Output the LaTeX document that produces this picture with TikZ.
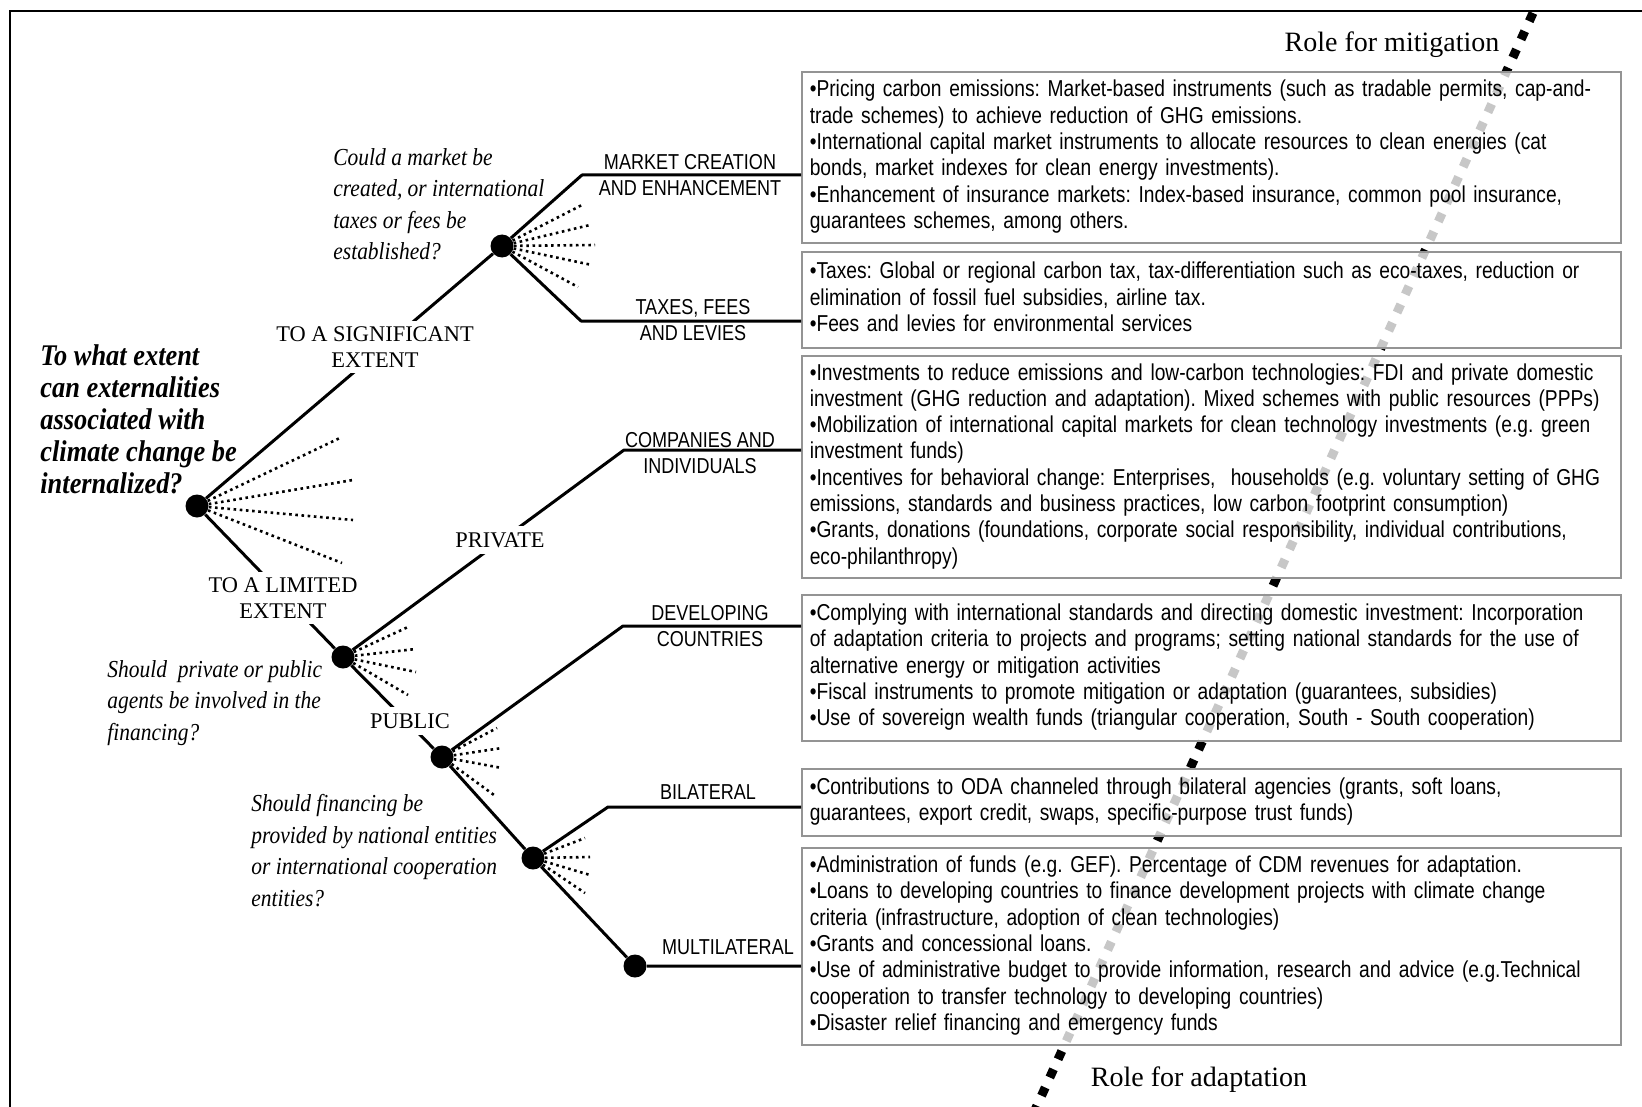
\documentclass[tikz,border=0pt]{standalone}
\usepackage{fontspec}
\setmainfont{Liberation Serif}
\newfontfamily\boxfont[FakeStretch=0.835]{Liberation Sans}
\newfontfamily\qfont[FakeStretch=0.88]{Liberation Serif}
\frenchspacing
\begin{document}
\begin{tikzpicture}[x=0.5pt,y=-0.5pt,
  tree/.style={line width=1.5pt, line join=round},
  fan/.style={line width=1.3pt, dash pattern=on 1.3pt off 1.8pt},
  dot/.style={circle, fill=black, inner sep=0pt, minimum size=11.5pt},
  infobox/.style={draw=black!42, line width=0.8pt, fill=white, fill opacity=0.78, text opacity=1,
    anchor=north west, minimum width=409.5pt, text width=401.5pt, inner xsep=4pt, inner ysep=0pt,
    align=left, font=\boxfont\fontsize{11.5}{13.15}\selectfont},
  caplabel/.style={font=\boxfont\fontsize{10.8}{13}\selectfont, align=center, inner sep=0pt},
  serlabel/.style={font=\fontsize{11.2}{13}\selectfont, align=center, fill=white, inner sep=3pt},
  question/.style={font=\qfont\itshape\fontsize{12.2}{15.75}\selectfont, align=left, anchor=north west, inner sep=0pt},
  role/.style={font=\fontsize{14}{16}\selectfont, inner sep=0pt},
]
\useasboundingbox (0,0) rectangle (1642,1107);
\fill[white] (0,0) rectangle (1642,1107);
\draw[line width=1pt] (10,1107) -- (10,11) -- (1642,11);

% dividing line between mitigation and adaptation
\coordinate (rtop) at (1533,13);
\coordinate (rbot) at (1035,1110);
\draw[line width=4.5pt, dash pattern=on 4.5pt off 5.5pt] (rtop) -- (rbot);

% boxes
\node[infobox, minimum height=85.5pt] (b1) at (801,71) {\begin{tabular}{@{}l@{}}
•Pricing carbon emissions: Market-based instruments (such as tradable permits, cap-and-\\
trade schemes) to achieve reduction of GHG emissions.\\
•International capital market instruments to allocate resources to clean energies (cat\\
bonds, market indexes for clean energy investments).\\
•Enhancement of insurance markets: Index-based insurance, common pool insurance,\\
guarantees schemes, among others.\end{tabular}};
\node[infobox, minimum height=48pt] (b2) at (801,251) {\begin{tabular}{@{}l@{}}
•Taxes: Global or regional carbon tax, tax-differentiation such as eco-taxes, reduction or\\
elimination of fossil fuel subsidies, airline tax.\\
•Fees and levies for environmental services\end{tabular}};
\node[infobox, minimum height=111pt] (b3) at (801,355) {\begin{tabular}{@{}l@{}}
•Investments to reduce emissions and low-carbon technologies: FDI and private domestic\\
investment (GHG reduction and adaptation). Mixed schemes with public resources (PPPs)\\
•Mobilization of international capital markets for clean technology investments (e.g. green\\
investment funds)\\
•Incentives for behavioral change: Enterprises,\ \ households (e.g. voluntary setting of GHG\\
emissions, standards and business practices, low carbon footprint consumption)\\
•Grants, donations (foundations, corporate social responsibility, individual contributions,\\
eco-philanthropy)\end{tabular}};
\node[infobox, minimum height=73pt] (b4) at (801,594) {\begin{tabular}{@{}l@{}}
•Complying with international standards and directing domestic investment: Incorporation\\
of adaptation criteria to projects and programs; setting national standards for the use of\\
alternative energy or mitigation activities\\
•Fiscal instruments to promote mitigation or adaptation (guarantees, subsidies)\\
•Use of sovereign wealth funds (triangular cooperation, South - South cooperation)\end{tabular}};
\node[infobox, minimum height=33.5pt] (b5) at (801,768) {\begin{tabular}{@{}l@{}}
•Contributions to ODA channeled through bilateral agencies (grants, soft loans,\\
guarantees, export credit, swaps, specific-purpose trust funds)\end{tabular}};
\node[infobox, minimum height=98.5pt] (b6) at (801,847) {\begin{tabular}{@{}l@{}}
•Administration of funds (e.g. GEF). Percentage of CDM revenues for adaptation.\\
•Loans to developing countries to finance development projects with climate change\\
criteria (infrastructure, adoption of clean technologies)\\
•Grants and concessional loans.\\
•Use of administrative budget to provide information, research and advice (e.g.Technical\\
cooperation to transfer technology to developing countries)\\
•Disaster relief financing and emergency funds\end{tabular}};

% decision nodes
\node[dot] (root) at (197,506) {};
\node[dot] (mkt) at (502,246) {};
\node[dot] (pp) at (343,657) {};
\node[dot] (pub) at (442,757) {};
\node[dot] (nat) at (533,858) {};
\node[dot] (multi) at (635,966) {};
\coordinate (bMkt) at (582,175);
\coordinate (bTax) at (581,321);
\coordinate (bCo) at (624,450);
\coordinate (bDev) at (623,626);
\coordinate (bBil) at (608,807);

% branches
\draw[tree] (root) -- (mkt);
\draw[tree] (root) -- (pp);
\draw[tree] (mkt) -- (bMkt) -- (bMkt -| b1.west);
\draw[tree] (mkt) -- (bTax) -- (bTax -| b2.west);
\draw[tree] (pp) -- (bCo) -- (bCo -| b3.west);
\draw[tree] (pp) -- (pub);
\draw[tree] (pub) -- (bDev) -- (bDev -| b4.west);
\draw[tree] (pub) -- (nat);
\draw[tree] (nat) -- (bBil) -- (bBil -| b5.west);
\draw[tree] (nat) -- (multi) -- (multi -| b6.west);

% dotted fans
\foreach \dx/\dy in {145/-69,156/-26,156/14,145/57} \draw[fan] (root) -- ++(\dx,\dy);
\foreach \dx/\dy in {80/-41,88/-21,93/-1,90/19,76/41} \draw[fan] (mkt) -- ++(\dx,\dy);
\foreach \dx/\dy in {65/-30,73/-8,73/15,65/38} \draw[fan] (pp) -- ++(\dx,\dy);
\foreach \dx/\dy in {55/-29,60/-9,60/11,52/38} \draw[fan] (pub) -- ++(\dx,\dy);
\foreach \dx/\dy in {52/-20,57/-1,57/17,52/35} \draw[fan] (nat) -- ++(\dx,\dy);

% branch labels
\node[serlabel] (lsig) at (375,347) {TO A SIGNIFICANT\\EXTENT};
\node[serlabel] (llim) at (283,598) {TO A LIMITED\\EXTENT};
\node[serlabel] (lpriv) at (500,540) {PRIVATE};
\node[serlabel] (lpub) at (410,721) {PUBLIC};

\node[caplabel] (lmkt) at (690,175) {MARKET CREATION\\AND ENHANCEMENT};
\node[caplabel] (ltax) at (693,320) {TAXES, FEES\\AND LEVIES};
\node[caplabel] (lco) at (700,453) {COMPANIES AND\\INDIVIDUALS};
\node[caplabel] (ldev) at (710,626) {DEVELOPING\\COUNTRIES};
\node[caplabel] (lbil) at (708,792) {BILATERAL};
\node[caplabel] (lmul) at (728,947) {MULTILATERAL};

% questions
\node[question, font=\qfont\bfseries\itshape\fontsize{15}{16}\selectfont] (q0) at (40,344)
  {To what extent\\can externalities\\associated with\\climate change be\\internalized?};
\node[question] (q1) at (333,148) {Could a market be\\created, or international\\taxes or fees be\\established?};
\node[question] (q2) at (107,660) {Should\ \ private or public\\agents be involved in the\\financing?};
\node[question] (q3) at (251,794) {Should financing be\\provided by national entities\\or international cooperation\\entities?};

\node[role] (rmit) at (1392,45) {Role for mitigation};
\node[role] (radp) at (1199,1080) {Role for adaptation};
\end{tikzpicture}
\end{document}
